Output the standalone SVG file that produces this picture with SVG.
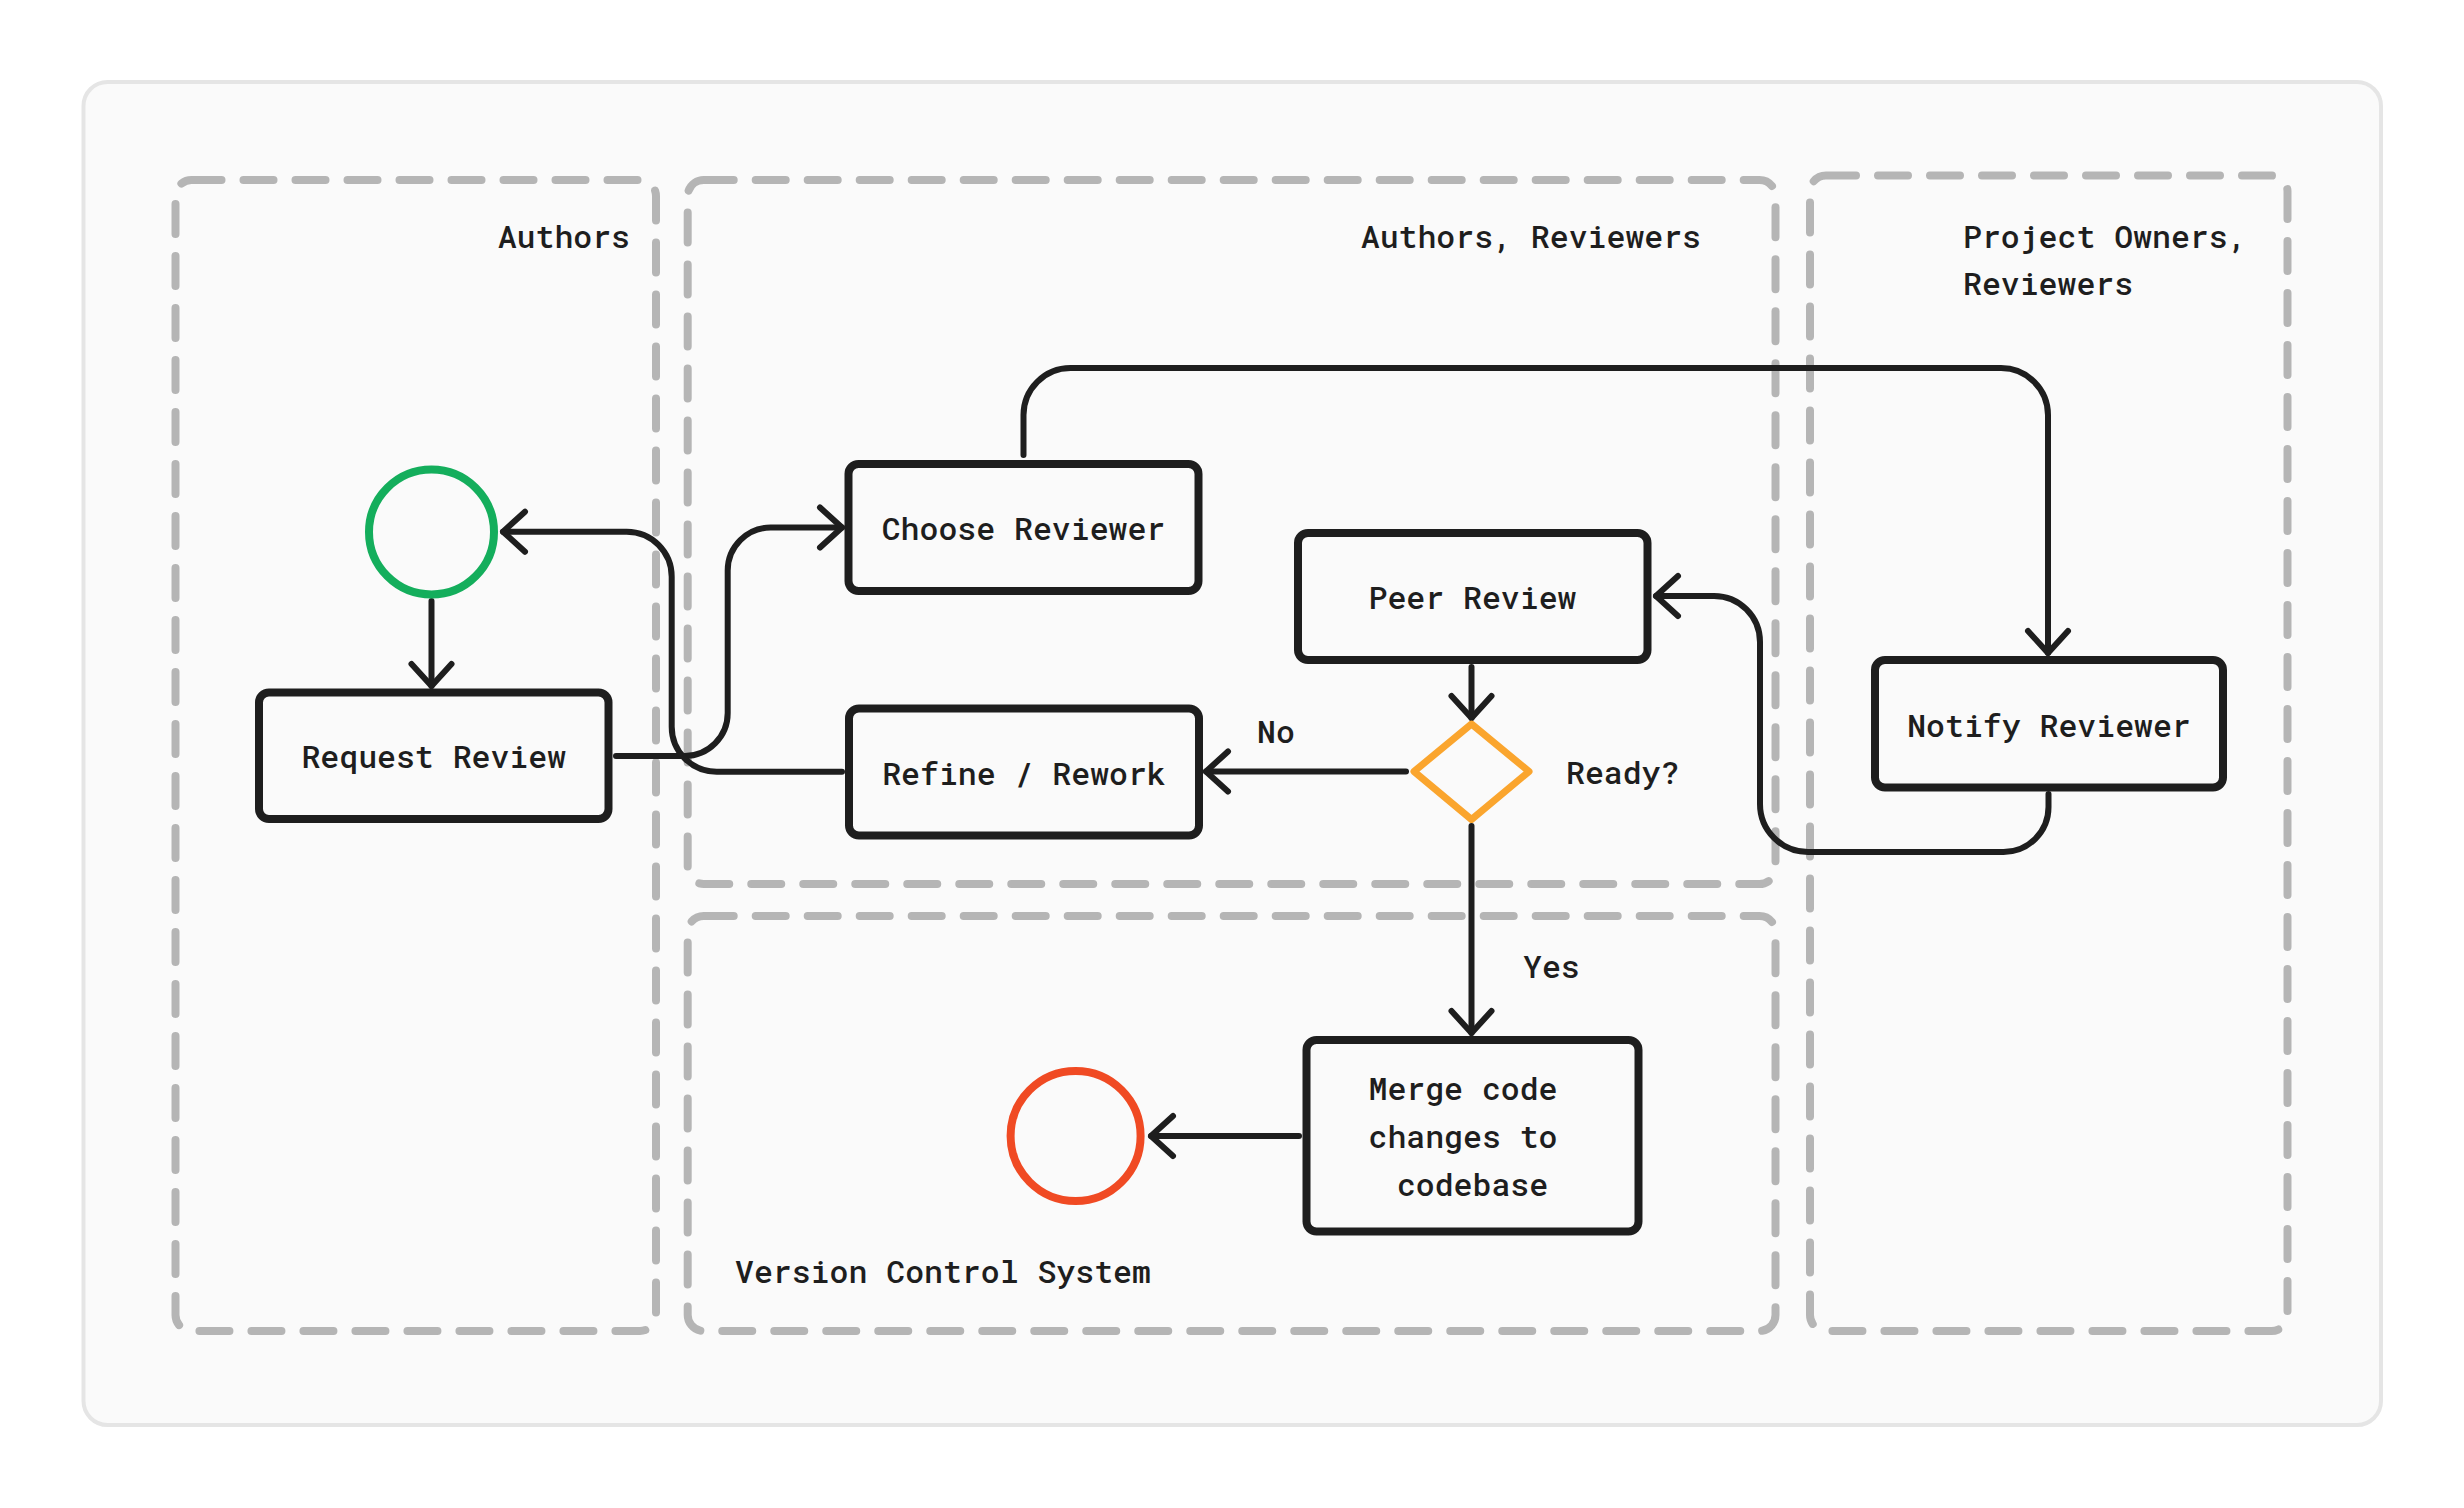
<svg xmlns="http://www.w3.org/2000/svg" width="2464" height="1508" viewBox="0 0 2464 1508">
<style>
.lane{fill:none;stroke:#b5b5b5;stroke-width:8;stroke-dasharray:30 22;stroke-linecap:round}
.box{fill:#fafafa;stroke:#1e1e1e;stroke-width:8}
.edge{fill:none;stroke:#1e1e1e;stroke-width:6;stroke-linecap:round;stroke-linejoin:round}
.t{font-family:"Roboto Mono","DejaVu Sans Mono","Liberation Mono",monospace;font-size:31.5px;font-weight:500;fill:#1e1e1e}
.c{text-anchor:middle}
.e{text-anchor:end}
</style>
<defs>
<marker id="ah" markerUnits="userSpaceOnUse" viewBox="-30 -26 36 52" refX="0" refY="0" markerWidth="36" markerHeight="52" orient="auto" overflow="visible">
<path d="M -22 -20 L 0 0 L -22 20" fill="none" stroke="#1e1e1e" stroke-width="6" stroke-linecap="round" stroke-linejoin="round"/>
</marker>
</defs>
<rect width="2464" height="1508" fill="#ffffff"/>
<rect id="frame" x="83.5" y="82" width="2297.5" height="1343" rx="24" fill="#fafafa" stroke="#e5e5e5" stroke-width="4"/>
<g id="lanes">
<g id="lane-authors"><rect class="lane" x="175.5" y="180" width="480.5" height="1151" rx="16"/><text class="t e" x="630" y="248">Authors</text></g>
<g id="lane-authors-reviewers"><rect class="lane" x="687.7" y="180" width="1087.8" height="704" rx="16"/><text class="t e" x="1701" y="248">Authors, Reviewers</text></g>
<g id="lane-vcs"><rect class="lane" x="687.7" y="916" width="1087.8" height="415" rx="16"/><text class="t" x="735" y="1283">Version Control System</text></g>
<g id="lane-owners"><rect class="lane" x="1810" y="175.5" width="477.5" height="1155.5" rx="16"/><text class="t" x="1963" y="248">Project Owners,</text><text class="t" x="1963" y="295">Reviewers</text></g>
</g>
<g id="connectors">
<path class="edge" marker-end="url(#ah)" d="M 431.5 601 V 686"/>
<path class="edge" marker-end="url(#ah)" d="M 616 756 H 684.7 A 43 43 0 0 0 727.7 713 V 570.5 A 43 43 0 0 1 770.7 527.5 H 842"/>
<path class="edge" marker-end="url(#ah)" d="M 842 771.7 H 716.7 A 45 45 0 0 1 671.7 726.7 V 576.7 A 45 45 0 0 0 626.7 531.7 H 503"/>
<path class="edge" marker-end="url(#ah)" d="M 1023.5 455 V 415 A 47 47 0 0 1 1070.5 368 H 2001 A 47 47 0 0 1 2048 415 V 653"/>
<path class="edge" marker-end="url(#ah)" d="M 2048.5 794 V 807 A 45 45 0 0 1 2003.5 852 H 1808 A 48 48 0 0 1 1760 804 V 642 A 46 46 0 0 0 1714 596 H 1656"/>
<path class="edge" marker-end="url(#ah)" d="M 1471.5 667 V 718"/>
<path class="edge" marker-end="url(#ah)" d="M 1406 771.5 H 1206"/>
<path class="edge" marker-end="url(#ah)" d="M 1471.5 826 V 1033"/>
<path class="edge" marker-end="url(#ah)" d="M 1299 1136 H 1151"/>
<text class="t" x="1257" y="743">No</text>
<text class="t" x="1523" y="978">Yes</text>
</g>
<g id="start"><circle cx="431.5" cy="532" r="62.5" fill="none" stroke="#14ae5c" stroke-width="8"/></g>
<g id="request-review"><rect class="box" x="259" y="692.5" width="349.5" height="126.5" rx="10"/><text class="t c" x="433.75" y="767.5">Request Review</text></g>
<g id="choose-reviewer"><rect class="box" x="848.5" y="464" width="350" height="127" rx="10"/><text class="t c" x="1023.5" y="540">Choose Reviewer</text></g>
<g id="refine-rework"><rect class="box" x="849" y="708.5" width="350" height="127" rx="10"/><text class="t c" x="1024" y="784.5">Refine / Rework</text></g>
<g id="peer-review"><rect class="box" x="1298" y="533" width="349.5" height="127" rx="10"/><text class="t c" x="1472.5" y="609">Peer Review</text></g>
<g id="notify-reviewer"><rect class="box" x="1875" y="660" width="348" height="127.5" rx="10"/><text class="t c" x="2049" y="736.5">Notify Reviewer</text></g>
<g id="ready"><polygon points="1471.5,724 1529,771.5 1471.5,819.5 1414,771.5" fill="none" stroke="#faa52e" stroke-width="7" stroke-linejoin="round"/><text class="t" x="1566" y="784">Ready?</text></g>
<g id="merge"><rect class="box" x="1306.5" y="1040" width="332" height="191.5" rx="10"/><text class="t c" x="1463" y="1099.5">Merge code</text><text class="t c" x="1463" y="1147.5">changes to</text><text class="t c" x="1472.5" y="1195.5">codebase</text></g>
<g id="end"><circle cx="1075.6" cy="1136" r="65" fill="none" stroke="#f04a23" stroke-width="8"/></g>
</svg>
